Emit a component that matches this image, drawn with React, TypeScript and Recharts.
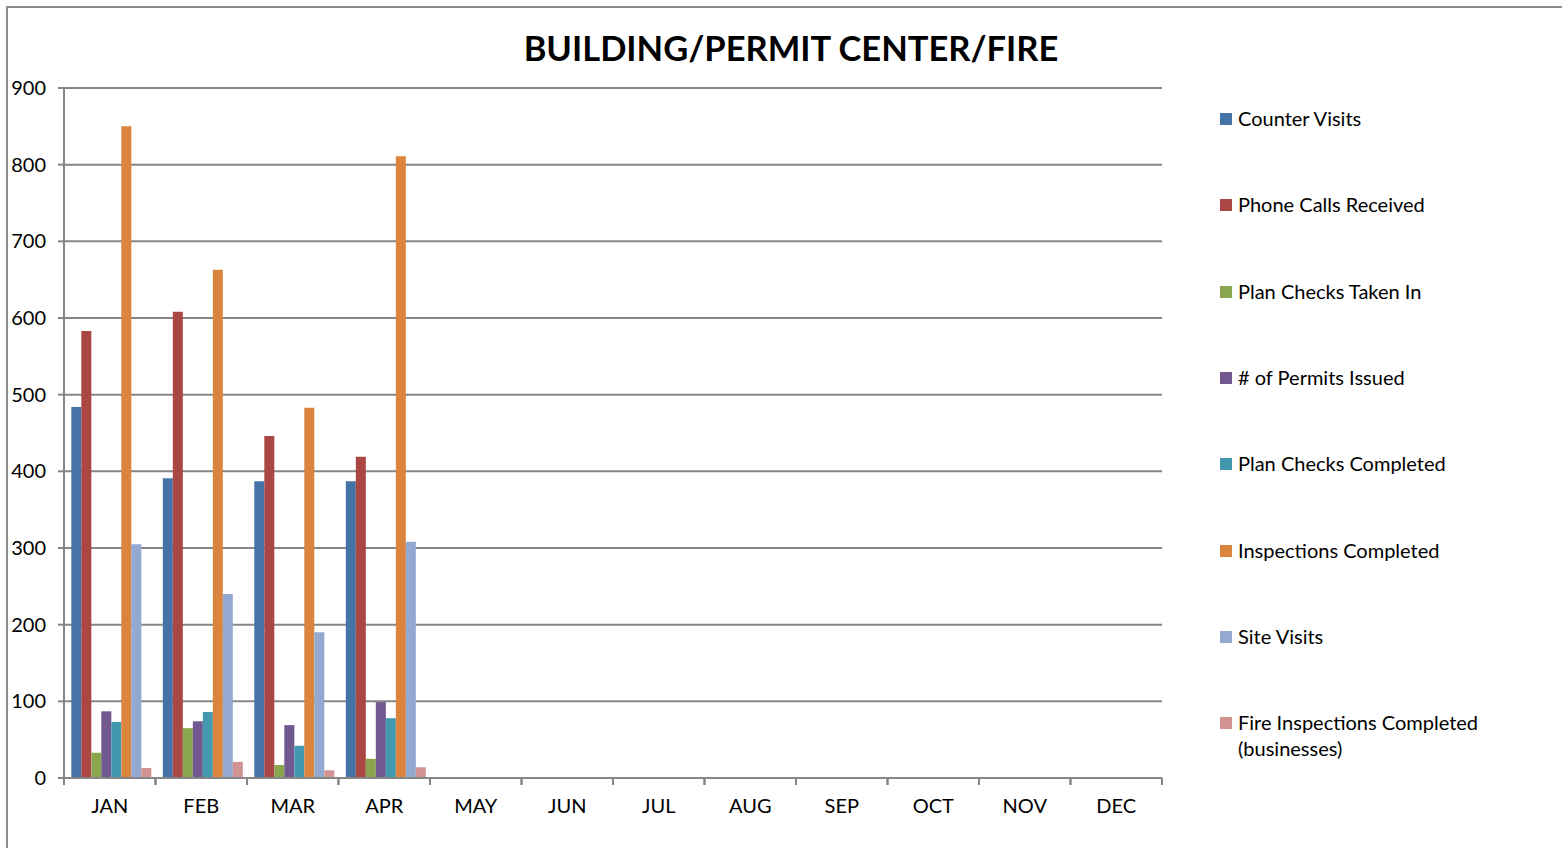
import { BarChart, Bar, XAxis, YAxis, CartesianGrid } from 'recharts'

const months = ['JAN', 'FEB', 'MAR', 'APR', 'MAY', 'JUN', 'JUL', 'AUG', 'SEP', 'OCT', 'NOV', 'DEC']

const counterVisits = [484, 391, 387, 387]
const phoneCalls = [583, 608, 446, 419]
const planChecksIn = [33, 65, 17, 25]
const permitsIssued = [87, 74, 69, 99]
const planChecksDone = [73, 86, 42, 78]
const inspections = [850, 663, 483, 811]
const siteVisits = [305, 240, 190, 308]
const fireInspections = [13, 21, 10, 14]

const yTicks = [0, 100, 200, 300, 400, 500, 600, 700, 800, 900]

const series = [
  { key: 'counter', name: 'Counter Visits', color: '#4572A7', values: counterVisits },
  { key: 'phone', name: 'Phone Calls Received', color: '#AA4643', values: phoneCalls },
  { key: 'planIn', name: 'Plan Checks Taken In', color: '#89A54E', values: planChecksIn },
  { key: 'permits', name: '# of Permits Issued', color: '#71588F', values: permitsIssued },
  { key: 'planDone', name: 'Plan Checks Completed', color: '#4198AF', values: planChecksDone },
  { key: 'insp', name: 'Inspections Completed', color: '#DB843D', values: inspections },
  { key: 'site', name: 'Site Visits', color: '#93A9CF', values: siteVisits },
  { key: 'fire', name: 'Fire Inspections Completed (businesses)', color: '#D19392', values: fireInspections },
]

const data = months.map((m, i) => {
  const row: Record<string, string | number | null> = { month: m }
  series.forEach((s) => {
    row[s.key] = i < s.values.length ? s.values[i] : null
  })
  return row
})

const FONT = 'Lato, "Open Sans", sans-serif'
const AXIS = '#868686'

// tick marks sit on the category boundaries, label in the middle
const MonthTick = ({ x, y, payload }: any) => {
  const bw = 1098 / 12
  return (
    <g>
      <line x1={x - bw / 2} y1={y - 8} x2={x - bw / 2} y2={y - 1} stroke={AXIS} strokeWidth={2} />
      <line x1={x + bw / 2} y1={y - 8} x2={x + bw / 2} y2={y - 1} stroke={AXIS} strokeWidth={2} />
      <text x={x} y={y + 27} textAnchor="middle" fill="#000" fontSize={20} fontFamily={FONT}>
        {payload.value}
      </text>
    </g>
  )
}

const LegendBox = () => (
  <div style={{ position: 'absolute', left: 1220, top: 105, fontFamily: FONT, fontSize: 20, color: '#000' }}>
    {series.map((s, i) => (
      <div
        key={s.key}
        style={{ position: 'absolute', top: i * 86.3, left: 0, display: 'flex', alignItems: 'flex-start' }}
      >
        <span
          style={{ width: 12, height: 12, background: s.color, marginTop: 8, marginRight: 6, flex: 'none' }}
        />
        <span style={{ width: 290, lineHeight: '26px' }}>
          {s.key === 'fire' ? (
            <>
              Fire Inspections Completed
              <br />
              (businesses)
            </>
          ) : (
            s.name
          )}
        </span>
      </div>
    ))}
  </div>
)

export default function App() {
  return (
    <div style={{ position: 'fixed', left: 0, top: 0, width: 1562, height: 848, background: '#fff', overflow: 'hidden' }}>
      <div
        style={{
          position: 'absolute',
          left: 6,
          top: 6,
          width: 1600,
          height: 900,
          borderTop: '2px solid #8c8c8c',
          borderLeft: '2px solid #8c8c8c',
        }}
      />
      <div
        style={{
          position: 'absolute',
          left: 0,
          width: 1582,
          top: 27,
          textAlign: 'center',
          fontFamily: FONT,
          fontWeight: 'bold',
          fontSize: 34.5,
          color: '#000',
        }}
      >
        BUILDING/PERMIT CENTER/FIRE
      </div>
      <div style={{ position: 'absolute', left: 0, top: 0 }}>
        <BarChart
          width={1562}
          height={848}
          data={data}
          margin={{ top: 88, right: 400, bottom: 0, left: 8 }}
          barCategoryGap="8%"
          barGap={0}
        >
          <CartesianGrid vertical={false} stroke={AXIS} strokeWidth={2} />
          <XAxis
            dataKey="month"
            tickLine={false}
            axisLine={{ stroke: AXIS, strokeWidth: 2 }}
            tick={<MonthTick />}
            interval={0}
            height={70}
          />
          <YAxis
            domain={[0, 900]}
            ticks={yTicks}
            width={56}
            axisLine={{ stroke: AXIS, strokeWidth: 2 }}
            tickLine={{ stroke: AXIS, strokeWidth: 2 }}
            tickSize={6}
            tickMargin={12}
            tick={{ fill: '#000', fontSize: 20, fontFamily: FONT }}
            interval={0}
          />
          {series.map((s) => (
            <Bar key={s.key} dataKey={s.key} name={s.name} fill={s.color} isAnimationActive={false} />
          ))}
        </BarChart>
      </div>
      <LegendBox />
    </div>
  )
}
